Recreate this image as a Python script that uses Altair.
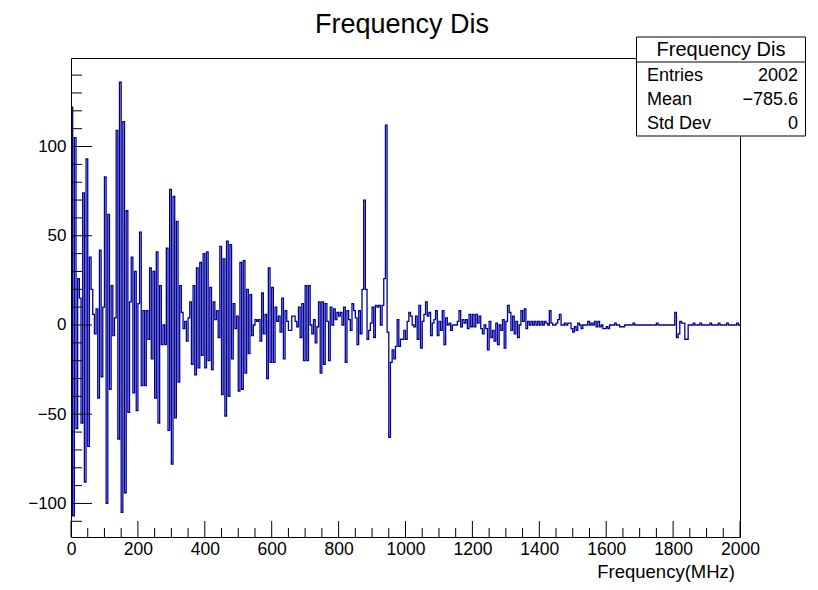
import altair as alt
import pandas as pd

# ---------------- data (5 MHz bins, 0-2000 MHz) ----------------
BIN_WIDTH = 5
seg0 = [122, -107, 105, -58, 26, 15, -55, 74, -88, 93, -68, 38, 20, 6, -5, 9, -41, 42, -29, 10]
seg1 = [83, -100, 62, -36, 22, -6, 4, 109, -64, 136, -105, 114, -94, 64, -49, 13, 38, -38, 30, -48]
seg2 = [12, 52, -34, 8, -34, 8, -8, 32, -19, 30, -41, 41, -55, 22, -11, 0, -11, 43, -59, 76]
seg3 = [-78, 72, -52, 58, -32, 22, 7, -2, 2, -9, 4, 13, -22, 22, -28, 32, -24, 35, -17, 40]
seg4 = [-24, 41, -20, 21, -25, 13, 3, 8, -7, 44, -39, 37, -51, 47, -40, 45, -19, 12, -2, 5]
seg5 = [-37, 35, -36, 36, -27, 20, -16, 17, -6, 0, 3, 2, 3, -9, 18, -5, 6, -30, 32, -21]
seg6 = [21, -21, 10, 2, 5, -4, 15, -19, 8, 2, -3, -3, 5, 5, 2, -1, 10, -7, 12, -20]
seg7 = [22, -20, 22, 0, -5, 3, -10, -1, 13, -27, 13, -22, 12, 2, -20, 10, 0, 9, 3, 7]
seg8 = [5, 7, 0, 10, -21, 8, 3, -3, 12, 8, 4, -11, 8, -5, 20, 70, 20, -8, -3, 1]
seg9 = [10, -7, 11, 10, 11, 0, 11, 26, 112, -4, -63, -21, -14, -19, -12, 3, -12, -8, -8, -3]
seg10 = [-8, 2, 7, 5, 0, -1, 5, -8, 11, -13, 2, 6, 13, 5, 7, -6, 1, 3, 8, -6]
seg11 = [2, -3, 8, -11, 4, 0, 1, -3, 0, 0, 0, 2, 8, -1, 3, 1, 3, -2, 6, -1]
seg12 = [6, -1, 6, 1, 5, -2, -5, 0, -2, -14, 2, -7, -3, -9, 1, -11, 0, -3, 3, -13]
seg13 = [2, 11, 7, -3, 5, -5, 2, -7, 0, 8, 2, 9, -2, 2, 0, 2, 0, 2, 0, 2]
seg14 = [0, 2, 0, 2, 1, 0, 8, 1, 0, 0, 1, 3, 6, 0, 0, 1, 0, 1, 1, -2]
seg15 = [-4, -1, -3, 1, 0, -2, 0, 0, 0, 2, 0, 1, 0, 2, -1, 2, -1, 0, -2, -2]
seg16 = [-1, -2, 0, 0, 0, 1, 0, 0, -1, -1, -1, 0, 0, 0, 0, 0, 1, 0, 0, 0]
seg17 = [0, 0, 0, 0, 0, 0, 0, 0, 0, 0, 1, 0, 0, 0, 0, 0, 0, 0, 0, 0]
seg18 = [0, 7, -7, -5, 2, 1, 1, -8, -8, 0, 0, 0, 1, 0, 0, 0, 1, 0, 0, 0]
seg19 = [0, 0, 1, 0, 0, 0, 0, 1, 0, 0, 0, 0, 1, 0, 0, 0, 0, 0, 1, 0]

segments = [seg0, seg1, seg2, seg3, seg4, seg5, seg6, seg7, seg8, seg9,
            seg10, seg11, seg12, seg13, seg14, seg15, seg16, seg17, seg18, seg19]
amps = [v for s in segments for v in s]
edges = [i * BIN_WIDTH for i in range(len(amps))] + [len(amps) * BIN_WIDTH]
hist_df = pd.DataFrame({"freq": edges, "amp": amps + [amps[-1]]})

y_major = [-100, -50, 0, 50, 100]
y_minor = [v for v in range(-110, 150, 10) if v not in y_major]
x_major = list(range(0, 2001, 200))
x_minor = [v for v in range(50, 2000, 50) if v % 200 != 0]

title_text = "Frequency Dis"
x_title = "Frequency(MHz)"
stat_names = ["Entries", "Mean", "Std Dev"]
stat_values = ["2002", "\u2212785.6", "0"]

# ---------------- layout ----------------
W, H = 669, 479
FONT = "Liberation Sans"
xs = alt.Scale(domain=[0, 2000], nice=False, zero=False)
ys = alt.Scale(domain=[-118.8, 149.6], nice=False, zero=False)

x_axis = alt.Axis(
    values=x_major, format="d", title=None, ticks=False, tickSize=0,
    domain=False, grid=False, labelFont=FONT, labelFontSize=17.5,
    labelColor="black", labelPadding=3, labelFlush=False, labelOverlap=False)
y_axis = alt.Axis(
    values=y_major, title=None, ticks=False, tickSize=0, domain=False,
    grid=False, labelFont=FONT, labelFontSize=17, labelColor="black",
    labelPadding=5, labelFlush=False, labelOverlap=False)

hist = alt.Chart(hist_df).mark_line(
    interpolate="step-after", color="#000099", strokeWidth=1.3
).encode(
    x=alt.X("freq:Q", scale=xs, axis=x_axis),
    y=alt.Y("amp:Q", scale=ys, axis=y_axis),
)

def yticks(vals, length):
    return alt.Chart(pd.DataFrame({"v": vals})).mark_rule(color="black", strokeWidth=1).encode(
        y=alt.Y("v:Q", scale=ys, axis=y_axis), x=alt.value(0), x2=alt.value(length))

def xticks(vals, length):
    return alt.Chart(pd.DataFrame({"v": vals})).mark_rule(color="black", strokeWidth=1).encode(
        x=alt.X("v:Q", scale=xs, axis=x_axis), y=alt.value(H), y2=alt.value(H - length))

def label(text, x, y, size, align="left", baseline="middle"):
    return alt.Chart(pd.DataFrame({"t": [text]})).mark_text(
        font=FONT, fontSize=size, align=align, baseline=baseline, color="black"
    ).encode(text="t:N", x=alt.value(x), y=alt.value(y))

one = pd.DataFrame({"a": [0]})
box = alt.Chart(one).mark_rect(fill="white", stroke="black", strokeWidth=1).encode(
    x=alt.value(565.5), x2=alt.value(734.5), y=alt.value(-21), y2=alt.value(78))
box_line = alt.Chart(one).mark_rule(color="black", strokeWidth=1).encode(
    x=alt.value(565.5), x2=alt.value(734.5), y=alt.value(4))

layers = [hist, yticks(y_minor, 11), yticks(y_major, 21), xticks(x_minor, 9), xticks(x_major, 16),
          label(title_text, 331, -25, 27, align="center", baseline="alphabetic"),
          label(x_title, 664, 514, 18.5, align="right"),
          box, box_line,
          label(title_text, 650, -8, 20, align="center")]
row_y = [18, 42, 66]
for name, val, yy in zip(stat_names, stat_values, row_y):
    layers.append(label(name, 576, yy, 18, align="left"))
    layers.append(label(val, 727, yy, 18, align="right"))

chart = alt.layer(*layers).properties(
    width=W, height=H, autosize="none",
    padding={"left": 63, "top": 50, "right": 70, "bottom": 45},
).configure(background="white").configure_view(stroke="black", strokeWidth=1)

chart.save("out.html", embed_options={"renderer": "svg", "actions": False})
